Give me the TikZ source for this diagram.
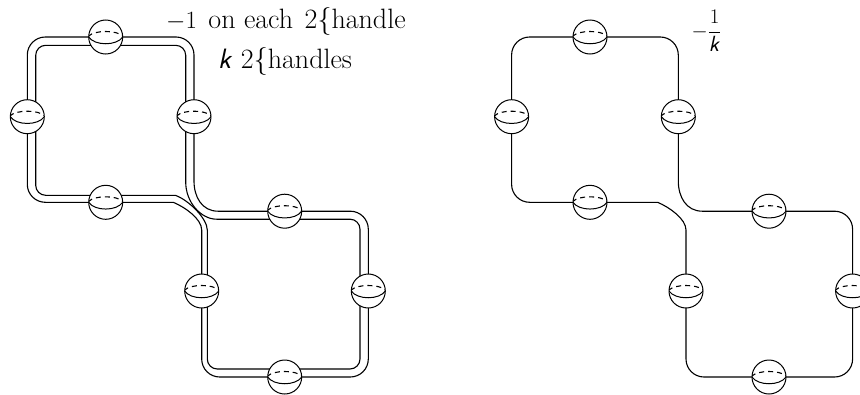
\documentclass[tikz,border=0pt]{standalone}
\usepackage{amsmath}
\usetikzlibrary{backgrounds}

\tikzset{
    handle/.style={circle, draw, fill=white, line width=1pt, inner sep=0pt, outer sep=0pt, minimum size=34pt,
        path picture={
            \draw[line width=1pt] (path picture bounding box.west) .. controls +(6,9) and +(-6,9) .. (path picture bounding box.east);
            \draw[line width=1.1pt, dash pattern=on 5pt off 4pt, dash phase=1pt] ([yshift=1pt]path picture bounding box.west) .. controls +(6,-6) and +(-6,-6) .. ([yshift=1pt]path picture bounding box.east);
        }},
    ribbon/.style={line width=1.1pt, rounded corners=18pt},
    ribboninner/.style={line width=1.1pt, rounded corners=10pt},
    ribbonbend/.style={line width=1.1pt},
    caption/.style={anchor=base west, inner sep=0pt, font=\fontsize{28}{32}\selectfont}
}

\begin{document}
\begin{tikzpicture}[x=1pt, y=-1pt]
    \clip[use as bounding box] (0,0) rectangle (860,394);

    \foreach \p/\dx in {a/0, b/484.3}{
        \foreach \n/\x/\y in {top/105.7/37, left/27.3/116.7, right/194/116.7, bot/105.7/202.3,
                              mid/284.7/211.2, west/201.7/291, east/368.3/291, foot/284.7/377}{
            \node[handle] (\p-\n) at (\dx+\x,\y) {};
        }
        \begin{scope}[on background layer]
            \draw[ribbon] (\p-top.east) -| (\p-right.north);
            \draw[ribbonbend] (\p-right.south) -- ++(0,47.3) .. controls +(0,16) and +(-16,0) .. ++(24,30.2) -- (\p-mid.west);
            \draw[ribbon] (\p-mid.east) -| (\p-east.north);
            \draw[ribbon] (\p-east.south) |- (\p-foot.east);
            \draw[ribbon] (\p-foot.west) -| (\p-west.south);
            \draw[ribbonbend] (\p-west.north) -- ++(0,-44) .. controls +(0,-11) and +(12,5) .. ++(-28.4,-27.7) -- (\p-bot.east);
            \draw[ribbon] (\p-bot.west) -| (\p-left.south);
            \draw[ribbon] (\p-left.north) |- (\p-top.west);
        \end{scope}
    }

    % second edge of the ribbon, left copy only
    \begin{scope}[on background layer]
        \draw[ribboninner] ([yshift=-8.3pt]a-top.center) -| ([xshift=-8.3pt]a-right.center);
        \draw[ribbonbend] ([xshift=-8.3pt]a-right.center) -- ++(0,65.3) .. controls +(0,20) and +(-16,0) .. ++(31,37.2) -- ([yshift=-8pt]a-mid.center);
        \draw[ribboninner] ([yshift=-8pt]a-mid.center) -| ([xshift=-8.3pt]a-east.center);
        \draw[ribboninner] ([xshift=-8.3pt]a-east.center) |- ([yshift=8pt]a-foot.center);
        \draw[ribboninner] ([yshift=8pt]a-foot.center) -| ([xshift=5.6pt]a-west.center);
        \draw[ribbonbend] ([xshift=5.6pt]a-west.center) -- ++(0,-61) .. controls +(0,-11) and +(14,5) .. ++(-32,-34.7) -- ([yshift=7pt]a-bot.center);
        \draw[ribboninner] ([yshift=7pt]a-bot.center) -| ([xshift=8.4pt]a-left.center);
        \draw[ribboninner] ([xshift=8.4pt]a-left.center) |- ([yshift=-8.3pt]a-top.center);
    \end{scope}

    \node[caption] (each) at (166,28) {$-1$\hspace{3pt} on each\hspace{3pt} 2\{handle};
    \node[caption] (count) at (218,68) {\textsf{\textit{k}} 2\{handles};
    \node[inner sep=0pt, font=\fontsize{22}{26}\selectfont] (frac) at (706.5,31) {$-\dfrac{1}{\textsf{\textit{k}}}$};
\end{tikzpicture}
\end{document}
